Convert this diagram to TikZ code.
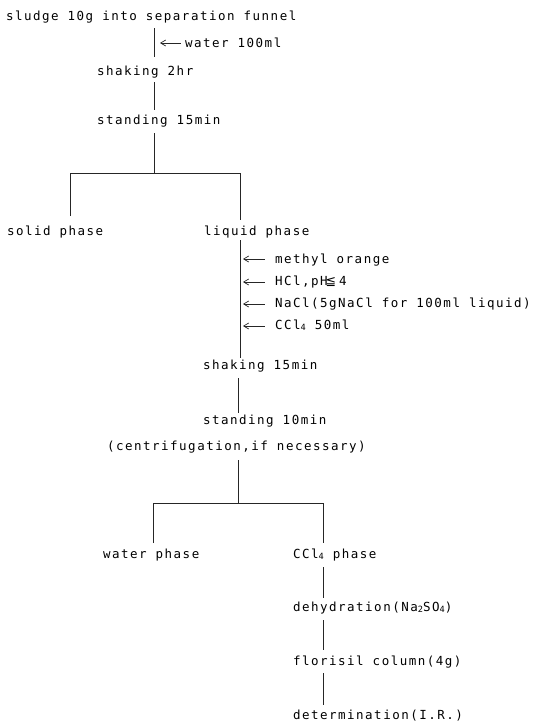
\documentclass[tikz,border=0pt]{standalone}
\usepackage{fontspec}
\usetikzlibrary{arrows.meta}
\newfontfamily\tw[LetterSpace=12]{DejaVu Sans Mono}
\newfontfamily\symf{DejaVu Sans}
\newcommand\lowdig[1]{\raisebox{-1.8pt}{\fontsize{8.6}{9}\selectfont #1}}
\tikzset{
  lbl/.style={anchor=base west, inner sep=0pt, outer sep=0pt,
              font=\tw\fontsize{12.5}{14}\selectfont},
  flow/.style={line width=0.7pt, draw=black!85},
  feed/.style={line width=0.7pt, draw=black!85,
               {Straight Barb[length=5pt,width=6pt]}-},
}
\begin{document}
\begin{tikzpicture}[x=1pt,y=-1pt]
\useasboundingbox (0,0) rectangle (536,726);

% --- process steps ---
\node[lbl] (s0)  at (6,20)   {sludge 10g into separation funnel};
\node[lbl] (w)   at (185,47) {water 100ml};
\node[lbl] (s1)  at (97,75)  {shaking 2hr};
\node[lbl] (s2)  at (97,124) {standing 15min};
\node[lbl] (sol) at (7,235)  {solid phase};
\node[lbl] (liq) at (204,235) {liquid phase};
\node[lbl] (r1)  at (275,263) {methyl orange};
\node[lbl] (r2)  at (275,285) {HCl,pH\hspace{-2pt}{\symf ≦}\hspace{3pt}4};
\node[lbl] (r3)  at (275,307) {NaCl(5gNaCl for 100ml liquid)};
\node[lbl] (r4)  at (275,329) {CCl\lowdig{4} 50ml};
\node[lbl] (s3)  at (203,369) {shaking 15min};
\node[lbl] (s4)  at (203,424) {standing 10min};
\node[lbl] (cf)  at (107,450) {(centrifugation,if necessary)};
\node[lbl] (wp)  at (103,558) {water phase};
\node[lbl] (cp)  at (293,558) {CCl\lowdig{4} phase};
\node[lbl] (d1)  at (293,611) {dehydration(Na\lowdig{2}SO\lowdig{4})};
\node[lbl] (d2)  at (293,665) {florisil column(4g)};
\node[lbl] (d3)  at (293,719) {determination(I.R.)};

% --- line end points ---
\coordinate (a0) at (154,28);  \coordinate (a1) at (154,57);
\coordinate (wa) at (181,43);  \coordinate (wb) at (160,43);
\coordinate (b0) at (154,82);  \coordinate (b1) at (154,110);
\coordinate (c0) at (154,133); \coordinate (c1) at (154,173);
\coordinate (cl) at (70,173);  \coordinate (cr) at (240,173);
\coordinate (cl1) at (70,216); \coordinate (cr1) at (240,220);
\coordinate (e0) at (240,240); \coordinate (e1) at (240,358);
\coordinate (f0) at (238,378); \coordinate (f1) at (238,413);
\coordinate (g0) at (238,460); \coordinate (g1) at (238,503);
\coordinate (gl) at (153,503); \coordinate (gr) at (323,503);
\coordinate (gl1) at (153,543); \coordinate (gr1) at (323,543);
\coordinate (h0) at (323,567); \coordinate (h1) at (323,598);
\coordinate (i0) at (323,620); \coordinate (i1) at (323,650);
\coordinate (j0) at (323,673); \coordinate (j1) at (323,705);

% --- flow lines ---
\draw[flow] (a0) -- (a1);
\draw[flow] (b0) -- (b1);
\draw[flow] (c0) -- (c1);
\draw[flow] (cl1) -- (cl) -- (cr) -- (cr1);
\draw[flow] (e0) -- (e1);
\draw[flow] (f0) -- (f1);
\draw[flow] (g0) -- (g1);
\draw[flow] (gl1) -- (gl) -- (gr) -- (gr1);
\draw[flow] (h0) -- (h1);
\draw[flow] (i0) -- (i1);
\draw[flow] (j0) -- (j1);

% --- reagent additions ---
\draw[feed] (wb) -- (wa);
\foreach \y/\n in {259/1,282/2,304/3,326/4}{
  \coordinate (t\n) at (243,\y);
  \coordinate (u\n) at (265,\y);
  \draw[feed] (t\n) -- (u\n);
}
\end{tikzpicture}
\end{document}
